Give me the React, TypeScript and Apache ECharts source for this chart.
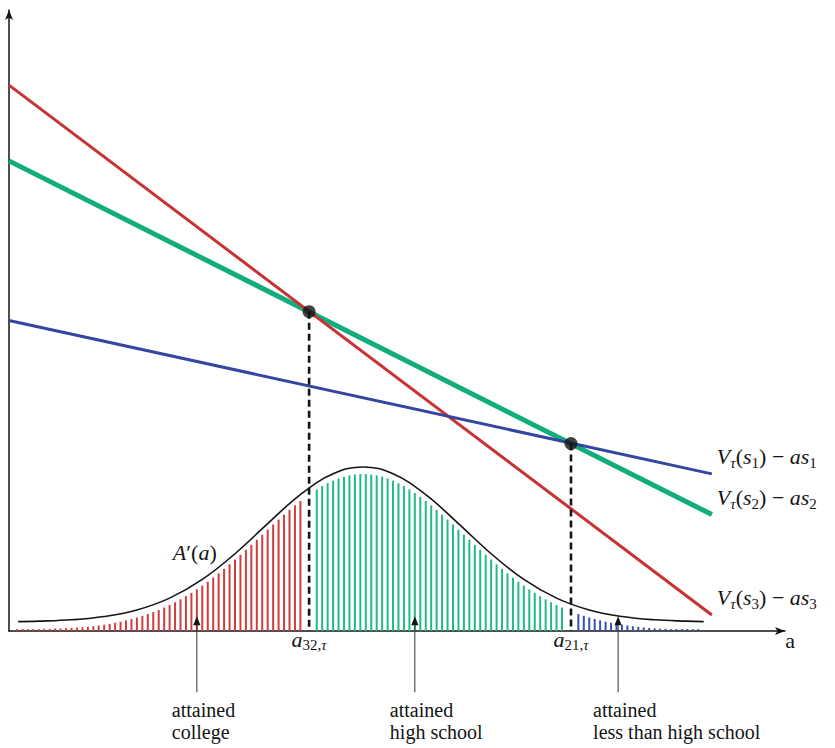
import React, { useEffect, useRef } from "react";
import * as echarts from "echarts";

// ---- data (abstract units: a = ability index, v = value) ----
const lineStartA = -1.47;
const lineEndA = 127.5;
const valueS1 = [49.6, 25.1]; // V(s1) - a s1  (blue)
const valueS2 = [75.1, 18.6]; // V(s2) - a s2  (green)
const valueS3 = [87.2, 2.56]; // V(s3) - a s3  (red)

const thresholdA = [53.6, 101.65]; // a32, a21
const thresholdV = [51.0, 29.95];

const densityA = [0.2, 4, 10, 16, 22, 28, 34, 40, 46, 52, 58, 63.5, 69, 75, 81, 87, 93, 99, 105, 111, 117, 123, 126];
const densityV = [1.5, 1.57, 1.79, 2.31, 3.36, 5.25, 8.24, 12.34, 17.15, 21.79, 25.11, 26.2, 25.11, 21.79, 17.15, 12.34, 8.24, 5.25, 3.36, 2.31, 1.79, 1.57, 1.5];

const collegeFirstA = 0;
const collegeHeights = [0.3, 0.3, 0.3, 0.3, 0.3, 0.35, 0.35, 0.4, 0.4, 0.45, 0.5, 0.55, 0.6, 0.66, 0.76, 0.87, 1.0, 1.15, 1.31, 1.49, 1.69, 1.91, 2.15, 2.42, 2.71, 3.03, 3.37, 3.75, 4.15, 4.59, 5.06, 5.56, 6.09, 6.65, 7.25, 7.87, 8.53, 9.21, 9.92, 10.65, 11.41, 12.18, 12.97, 13.77, 14.58, 15.39, 16.2, 17.01, 17.8, 18.58, 19.34, 20.07, 20.77];
const highSchoolFirstA = 55;
const highSchoolHeights = [22.62, 23.15, 23.61, 24.02, 24.37, 24.65, 24.86, 25.0, 25.07, 25.07, 25.0, 24.86, 24.65, 24.37, 24.02, 23.61, 23.15, 22.62, 22.05, 21.43, 20.77, 20.07, 19.34, 18.58, 17.8, 17.01, 16.2, 15.39, 14.58, 13.77, 12.97, 12.18, 11.41, 10.65, 9.92, 9.21, 8.53, 7.87, 7.25, 6.65, 6.09, 5.56, 5.06, 4.59, 4.15, 3.75];
const lessFirstA = 103;
const lessHeights = [2.71, 2.42, 2.15, 1.91, 1.69, 1.49, 1.31, 1.15, 1.0, 0.87, 0.76, 0.66, 0.57, 0.49, 0.42, 0.36, 0.35, 0.3, 0.3, 0.3, 0.3, 0.3, 0.3];

const arrowA = [33.0, 73.0, 110.3];
const arrowTipV = 2.35;
const arrowLabels = ["attained\ncollege", "attained\nhigh school", "attained\nless than high school"];
const curveLabelAnchor = [28.6, 12.46];

const RED = "#c83232";
const GREEN = "#12ad7d";
const BLUE = "#3446a2";
const RED_BAR = "#cf3d3f";
const GREEN_BAR = "#20b98a";
const BLUE_BAR = "#3a4fae";
const INK = "#141414";
const SERIF = "'Liberation Serif', 'Times New Roman', serif";

const rich = {
  i: { fontFamily: SERIF, fontStyle: "italic", fontSize: 22, lineHeight: 27, fill: INK },
  n: { fontFamily: SERIF, fontSize: 22, lineHeight: 27, fill: INK },
  si: { fontFamily: SERIF, fontStyle: "italic", fontSize: 15, lineHeight: 16, verticalAlign: "bottom", fill: INK },
  sn: { fontFamily: SERIF, fontSize: 15, lineHeight: 16, verticalAlign: "bottom", fill: INK },
};

const lineLabel = (k: number) => `{i|V}{si|τ}{n|(}{i|s}{sn|${k}}{n|) − }{i|as}{sn|${k}}`;

export default function App() {
  const ref = useRef<HTMLDivElement>(null);
  useEffect(() => {
    const el = ref.current!;
    const chart = echarts.init(el, undefined, { renderer: "svg" });
    const bars = (heights: number[], first: number) => heights.map((h, i) => [first + i, h]);
    const option: any = {
      animation: false,
      backgroundColor: "#ffffff",
      grid: { left: 9, top: 10, width: 776, height: 621, containLabel: false },
      xAxis: {
        type: "value",
        min: -1.468,
        max: 140.92,
        axisLine: { show: true, onZero: false, symbol: ["none", "arrow"], symbolSize: [6, 10], lineStyle: { color: INK, width: 1.5 } },
        axisTick: { show: false },
        axisLabel: { show: false },
        splitLine: { show: false },
      },
      yAxis: {
        type: "value",
        min: 0,
        max: 99.2,
        axisLine: { show: true, onZero: false, symbol: ["none", "arrow"], symbolSize: [6, 10], lineStyle: { color: INK, width: 1.5 } },
        axisTick: { show: false },
        axisLabel: { show: false },
        splitLine: { show: false },
      },
      series: [
        { type: "bar", data: bars(collegeHeights, collegeFirstA), barWidth: 2, barGap: "-100%", itemStyle: { color: RED_BAR }, z: 2, silent: true },
        { type: "bar", data: bars(highSchoolHeights, highSchoolFirstA), barWidth: 2, barGap: "-100%", itemStyle: { color: GREEN_BAR }, z: 2, silent: true },
        { type: "bar", data: bars(lessHeights, lessFirstA), barWidth: 2, barGap: "-100%", itemStyle: { color: BLUE_BAR }, z: 2, silent: true },
        {
          type: "line",
          data: densityA.map((a, i) => [a, densityV[i]]),
          smooth: 0.4,
          showSymbol: false,
          lineStyle: { color: INK, width: 1.6 },
          z: 3,
        },
        { type: "line", data: [[lineStartA, valueS2[0]], [lineEndA, valueS2[1]]], showSymbol: false, lineStyle: { color: GREEN, width: 5 }, z: 4 },
        { type: "line", data: [[lineStartA, valueS3[0]], [lineEndA, valueS3[1]]], showSymbol: false, lineStyle: { color: RED, width: 3 }, z: 5 },
        { type: "line", data: [[lineStartA, valueS1[0]], [lineEndA, valueS1[1]]], showSymbol: false, lineStyle: { color: BLUE, width: 3 }, z: 5 },
        ...thresholdA.map((a, i) => ({
          type: "line",
          data: [[a, thresholdV[i]], [a, 0]],
          showSymbol: false,
          lineStyle: { color: INK, width: 2.6, type: [7, 4] },
          z: 6,
        })),
        {
          type: "scatter",
          data: thresholdA.map((a, i) => [a, thresholdV[i]]),
          symbolSize: 13,
          itemStyle: { color: INK },
          z: 7,
        },
      ],
    };
    chart.setOption(option);

    const px = (a: number, v: number) => chart.convertToPixel({ gridIndex: 0 }, [a, v]) as number[];
    const g: any[] = [];
    const ends = [valueS1[1], valueS2[1], valueS3[1]];
    ends.forEach((v, k) => {
      const p = px(lineEndA, v);
      g.push({ type: "text", x: p[0] + 5, y: p[1] - 17, z: 100, silent: true, style: { text: lineLabel(k + 1), rich, align: "left", verticalAlign: "middle", fontFamily: SERIF, fontSize: 22 } });
    });
    const cp = px(curveLabelAnchor[0], curveLabelAnchor[1]);
    g.push({ type: "text", x: cp[0], y: cp[1], z: 100, silent: true, style: { text: "{i|A}{n|′(}{i|a}{n|)}", rich, align: "left", verticalAlign: "middle", fontFamily: SERIF, fontSize: 22 } });
    const thrLabels = ["{i|a}{sn|32,}{si|τ}", "{i|a}{sn|21,}{si|τ}"];
    thresholdA.forEach((a, i) => {
      const p = px(a, 0);
      g.push({ type: "text", x: p[0], y: p[1] + 8, z: 100, silent: true, style: { text: thrLabels[i], rich, align: "center", verticalAlign: "middle", fontFamily: SERIF, fontSize: 22 } });
    });
    const axEnd = px(140.92, 0);
    g.push({ type: "text", x: axEnd[0] + 5, y: axEnd[1] + 9, z: 100, silent: true, style: { text: "a", align: "center", verticalAlign: "middle", fill: INK, fontFamily: SERIF, fontSize: 22 } });
    arrowA.forEach((a, i) => {
      const tip = px(a, arrowTipV);
      const x = tip[0];
      const y = tip[1];
      g.push({ type: "line", z: 100, silent: true, shape: { x1: x, y1: y + 6, x2: x, y2: y + 76 }, style: { stroke: "#333", lineWidth: 1 } });
      g.push({ type: "polygon", z: 100, silent: true, shape: { points: [[x, y], [x - 3.6, y + 9], [x + 3.6, y + 9]] }, style: { fill: INK } });
      g.push({ type: "text", x: x - 25, y: y + 83, z: 100, silent: true, style: { text: arrowLabels[i], align: "left", verticalAlign: "top", fill: INK, fontFamily: SERIF, fontSize: 20, lineHeight: 22 } });
    });
    chart.setOption({ graphic: g });
    return () => chart.dispose();
  }, []);
  return <div ref={ref} style={{ position: "absolute", left: 0, top: 0, width: 835, height: 748 }} />;
}
